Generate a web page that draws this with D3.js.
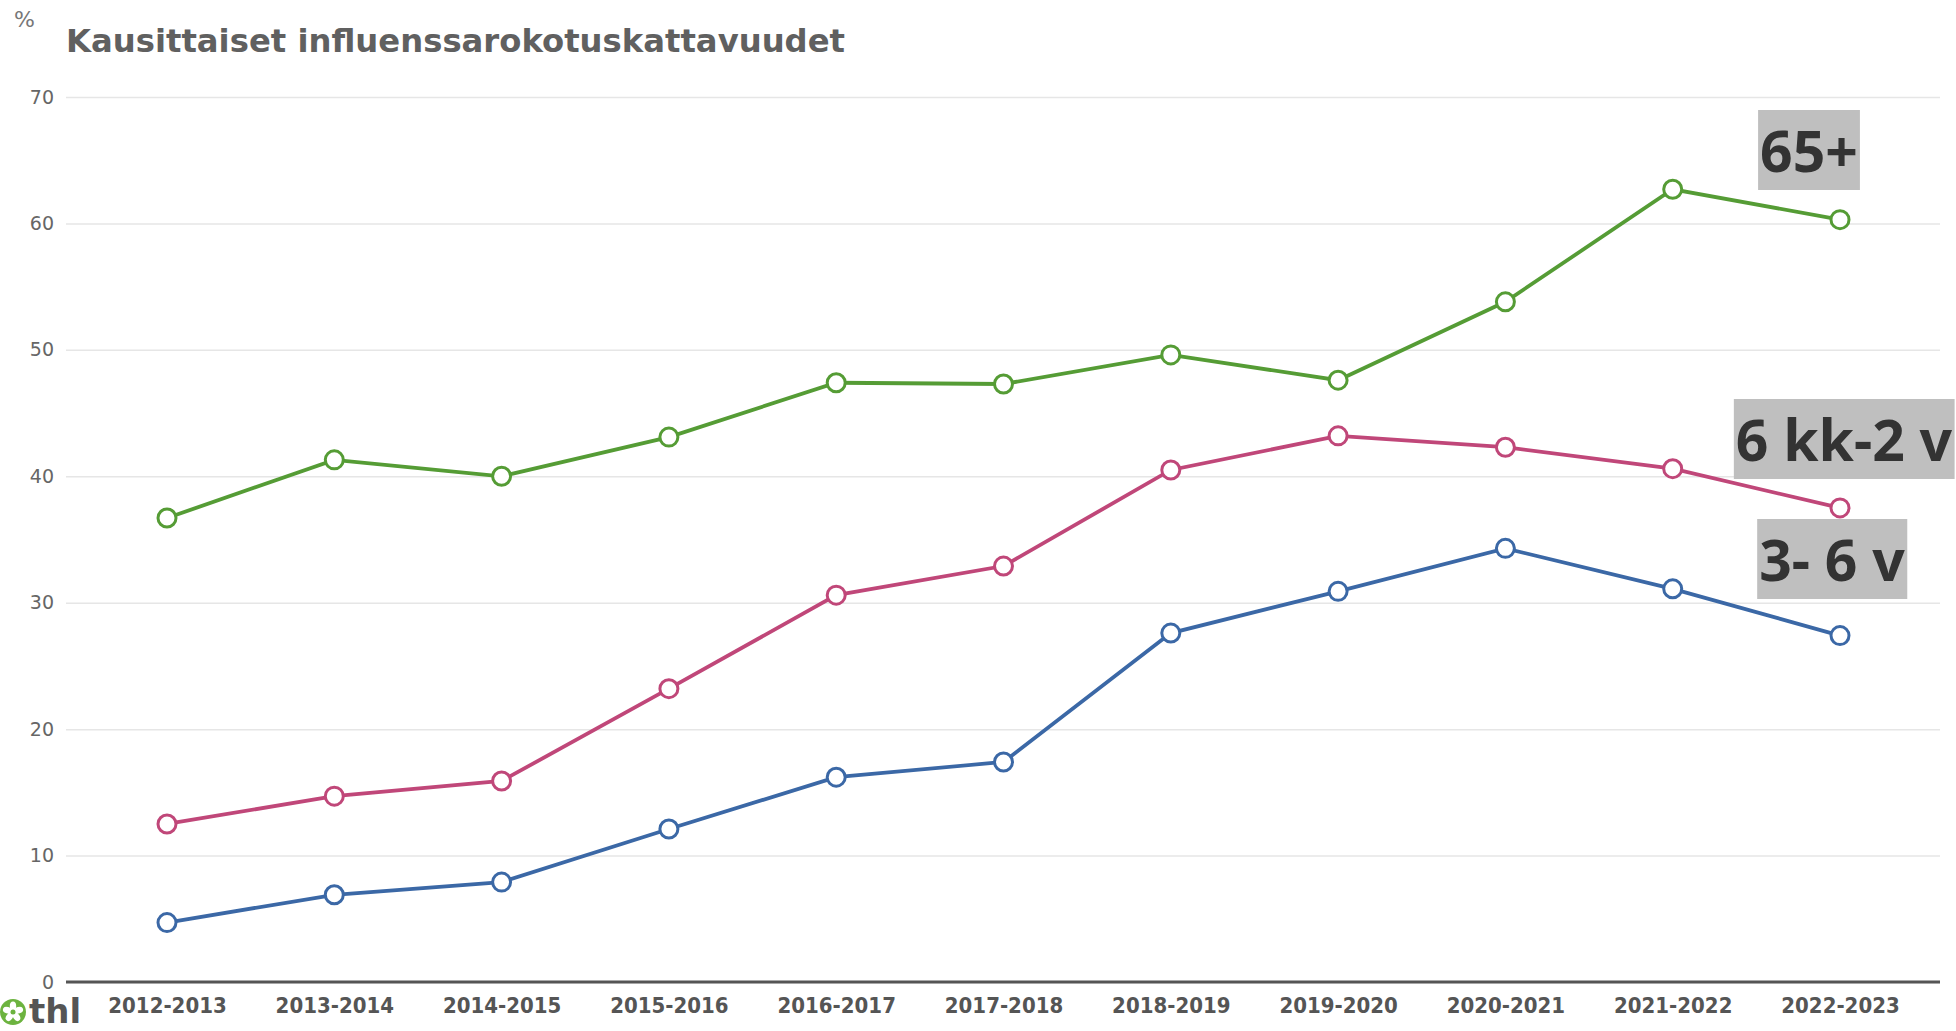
<!DOCTYPE html>
<html>
<head>
<meta charset="utf-8">
<script src="https://cdn.jsdelivr.net/npm/d3@7"></script>
<style>
	body { margin: 0; background: #fff; }
	svg { display: block; }
</style>
</head>
<body>
<div id="chart"></div>
<script>
// kaudet
var seasons = ["2012-2013", "2013-2014", "2014-2015", "2015-2016", "2016-2017", "2017-2018",
	"2018-2019", "2019-2020", "2020-2021", "2021-2022", "2022-2023"];

// rokotuskattavuus %
var age65plus = [36.7, 41.3, 40.0, 43.1, 47.4, 47.3, 49.6, 47.6, 53.8, 62.7, 60.3];
var age6kk2v = [12.5, 14.7, 15.9, 23.2, 30.6, 32.9, 40.5, 43.2, 42.3, 40.6, 37.5];
var age3to6v = [4.7, 6.9, 7.9, 12.1, 16.2, 17.4, 27.6, 30.9, 34.3, 31.1, 27.4];

var yTicks = [0, 10, 20, 30, 40, 50, 60, 70];

var width = 1956,
	height = 1031;

var svg = d3.select("#chart").append("svg")
	.attr("width", width)
	.attr("height", height);

var x = d3.scalePoint()
	.domain(seasons)
	.range([167, 1840]);

var y = d3.scaleLinear()
	.domain([0, 70])
	.range([982, 97]);

// otsikko
svg.append("text")
	.attr("x", 14)
	.attr("y", 27)
	.style("font-family", "DejaVu Sans")
	.style("font-size", "22px")
	.style("fill", "#777")
	.text("%");

svg.append("text")
	.attr("x", 66)
	.attr("y", 52)
	.attr("textLength", 779)
	.attr("lengthAdjust", "spacingAndGlyphs")
	.style("font-family", "DejaVu Sans")
	.style("font-weight", "bold")
	.style("font-size", "32px")
	.style("fill", "#606060")
	.text("Kausittaiset influenssarokotuskattavuudet");

// y-akseli + ruudukko
var yAxis = svg.append("g")
	.attr("transform", "translate(66,0)")
	.call(d3.axisLeft(y).tickValues(yTicks).tickSize(-(1940 - 66)).tickPadding(12));

yAxis.select(".domain").remove();
yAxis.selectAll(".tick line")
	.attr("stroke", "#e6e6e6")
	.attr("stroke-width", 1.5);
yAxis.selectAll(".tick text")
	.style("font-family", "DejaVu Sans")
	.style("font-size", "19px")
	.style("fill", "#666");

// x-akseli
var xAxis = svg.append("g")
	.attr("transform", "translate(0," + y(0) + ")")
	.call(d3.axisBottom(x).tickSize(0).tickPadding(15));

xAxis.select(".domain").remove();
xAxis.selectAll(".tick text")
	.style("font-family", "DejaVu Sans Condensed, DejaVu Sans")
	.style("font-weight", "bold")
	.style("font-size", "22px")
	.style("fill", "#555");

svg.append("line")
	.attr("x1", 66)
	.attr("x2", 1940)
	.attr("y1", y(0))
	.attr("y2", y(0))
	.attr("stroke", "#555")
	.attr("stroke-width", 3);

// sarjat
var series = [
	{ name: "65+", values: age65plus, color: "#559c35" },
	{ name: "6 kk-2 v", values: age6kk2v, color: "#c04779" },
	{ name: "3- 6 v", values: age3to6v, color: "#3b68a6" }
];

var line = d3.line()
	.x(function(d, i) { return x(seasons[i]); })
	.y(function(d) { return y(d); });

series.forEach(function(s) {
	svg.append("path")
		.attr("d", line(s.values))
		.attr("fill", "none")
		.attr("stroke", s.color)
		.attr("stroke-width", 3.8);

	svg.selectAll(null)
		.data(s.values)
		.enter()
		.append("circle")
		.attr("cx", function(d, i) { return x(seasons[i]); })
		.attr("cy", function(d) { return y(d); })
		.attr("r", 9)
		.attr("fill", "#fff")
		.attr("stroke", s.color)
		.attr("stroke-width", 3);
});

// sarjojen nimet harmaissa laatikoissa
var labels = [
	{ text: "65+", x: 1809, y: 150 },
	{ text: "6 kk-2 v", x: 1844, y: 439 },
	{ text: "3- 6 v", x: 1832, y: 559 }
];

labels.forEach(function(l) {
	var g = svg.append("g");
	var t = g.append("text")
		.attr("x", l.x)
		.attr("y", l.y)
		.attr("text-anchor", "middle")
		.attr("dominant-baseline", "central")
		.style("font-family", "Noto Sans")
		.style("font-weight", "bold")
		.style("font-size", "57px")
		.style("fill", "#333")
		.text(l.text);
	var bb = t.node().getBBox();
	g.insert("rect", "text")
		.attr("x", bb.x - 2)
		.attr("y", l.y - 40)
		.attr("width", bb.width + 4)
		.attr("height", 80)
		.attr("fill", "#bfbfbf");
});

// thl-logo
var logo = svg.append("g").attr("transform", "translate(13,1012)");
logo.append("circle").attr("r", 13).attr("fill", "#6cb33f");
d3.range(5).forEach(function(i) {
	var a = i * 72 - 90;
	logo.append("ellipse")
		.attr("transform", "rotate(" + a + ") translate(6,0)")
		.attr("rx", 4.5)
		.attr("ry", 3.2)
		.attr("fill", "#fff");
});
logo.append("circle").attr("r", 2.5).attr("fill", "#6cb33f");

svg.append("text")
	.attr("x", 29)
	.attr("y", 1023)
	.style("font-family", "DejaVu Sans")
	.style("font-weight", "bold")
	.style("font-size", "34px")
	.style("fill", "#555")
	.text("thl");
</script>
</body>
</html>
